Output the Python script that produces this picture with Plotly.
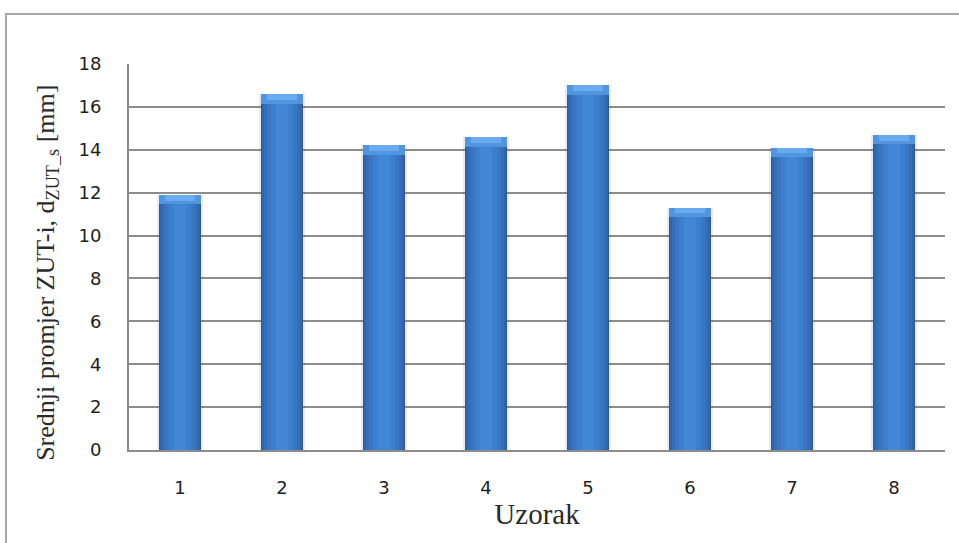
import plotly.graph_objects as go

# Sample numbers and mean HAZ diameters
uzorci = [1, 2, 3, 4, 5, 6, 7, 8]
promjer = [11.9, 16.6, 14.2, 14.6, 17.0, 11.3, 14.1, 14.7]
y_ticks = [0, 2, 4, 6, 8, 10, 12, 14, 16, 18]

fig = go.Figure()

# Soft shadow behind each column
fig.add_trace(go.Bar(x=uzorci, y=promjer, width=0.45,
                     marker=dict(color="rgba(60,60,60,0.10)", line_width=0),
                     hoverinfo="skip", showlegend=False))

# Layered columns fake a cylindrical horizontal shading
layers = [
    (0.41, "#2c5c99"),
    (0.39, "#3165a8"),
    (0.35, "#356eb7"),
    (0.29, "#3977c5"),
    (0.21, "#3d7fcf"),
    (0.12, "#4286d6"),
]
for w, c in layers:
    fig.add_trace(go.Bar(x=uzorci, y=promjer, width=w,
                         marker=dict(color=c, line_width=0),
                         hoverinfo="skip", showlegend=False))

# Lighter bevel on top of each column
cap = 0.45
fig.add_trace(go.Bar(x=uzorci, y=[cap] * len(promjer),
                     base=[v - cap for v in promjer], width=0.41,
                     marker=dict(color="#5095de", line_width=0),
                     hoverinfo="skip", showlegend=False))
fig.add_trace(go.Bar(x=uzorci, y=[cap * 0.6] * len(promjer),
                     base=[v - cap * 0.6 for v in promjer], width=0.3,
                     marker=dict(color="#6aaaf0", line_width=0),
                     hoverinfo="skip", showlegend=False))

fig.update_layout(
    width=959, height=543,
    margin=dict(l=129, r=14, t=64, b=93),
    paper_bgcolor="white", plot_bgcolor="white",
    barmode="overlay", bargap=0,
    showlegend=False,
    font=dict(family="DejaVu Sans", size=18, color="#1e1e1e"),
    xaxis=dict(
        range=[0.5, 8.5], tickmode="array", tickvals=uzorci,
        ticktext=[str(u) for u in uzorci],
        showgrid=False, zeroline=False,
        showline=True, linecolor="#8c8c8c", linewidth=2,
        ticks="", ticklabelstandoff=20,
        tickfont=dict(family="DejaVu Sans", size=18, color="#1e1e1e"),
        title=dict(text="Uzorak", standoff=7,
                   font=dict(family="Liberation Serif", size=29, color="#2a2a2a")),
    ),
    yaxis=dict(
        range=[0, 18], tickmode="array", tickvals=y_ticks,
        showgrid=True, gridcolor="#8c8c8c", gridwidth=1.5,
        zeroline=False,
        showline=True, linecolor="#8c8c8c", linewidth=2,
        ticks="", ticklabelstandoff=22,
        tickfont=dict(family="DejaVu Sans", size=18, color="#1e1e1e"),
    ),
    annotations=[dict(
        text="Srednji promjer ZUT-i, d<sub>ZUT_s</sub> [mm]",
        textangle=-90, xref="paper", yref="paper",
        x=-0.1, y=0.46, xanchor="center", yanchor="middle",
        showarrow=False,
        font=dict(family="Liberation Serif", size=26, color="#2a2a2a"),
    )],
    shapes=[dict(type="rect", xref="paper", yref="paper",
                 x0=-0.1507, x1=1.1, y0=-0.3, y1=1.1295,
                 line=dict(color="#a6a6a6", width=2), layer="below")],
)

fig.write_html("out.html")
